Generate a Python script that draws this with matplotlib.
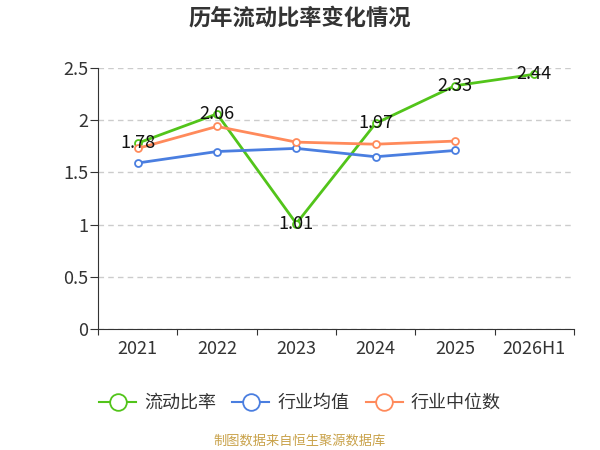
import matplotlib
matplotlib.use('Agg')
import matplotlib.pyplot as plt
from matplotlib.lines import Line2D

plt.rcParams['font.family'] = ['Noto Sans CJK SC', 'DejaVu Sans']

years = ['2021', '2022', '2023', '2024', '2025', '2026H1']
current_ratio = [1.78, 2.06, 1.01, 1.97, 2.33, 2.44]
industry_mean = [1.59, 1.70, 1.73, 1.65, 1.71]
industry_median = [1.73, 1.94, 1.79, 1.77, 1.80]

green = '#52c41a'
blue = '#4a7ee0'
orange = '#ff8a5b'

fig = plt.figure(figsize=(6, 4.5), dpi=100)
ax = fig.add_axes([98 / 600, 1 - 329 / 450, 476 / 600, 261 / 450])

x_all = list(range(len(years)))
series = [
    (current_ratio, green, '流动比率'),
    (industry_mean, blue, '行业均值'),
    (industry_median, orange, '行业中位数'),
]
for vals, col, name in series:
    ax.plot(x_all[:len(vals)], vals, color=col, lw=2, marker='o', ms=5,
            mfc='white', mec=col, mew=1.3, zorder=3)

for x, v in zip(x_all, current_ratio):
    ax.text(x, v, f'{v:.2f}', ha='center', va='center', fontsize=13,
            color='#111111', zorder=5)

ax.set_xlim(-0.5, len(years) - 0.5)
ax.set_ylim(0, 2.5)
ax.set_yticks([0, 0.5, 1, 1.5, 2, 2.5])
ax.set_yticklabels(['0', '0.5', '1', '1.5', '2', '2.5'])
ax.yaxis.grid(True, ls=(0, (4, 3)), color='#cccccc', lw=1)
ax.set_axisbelow(True)

ax.set_xticks([i - 0.5 for i in range(len(years) + 1)])
ax.set_xticklabels([])
ax.set_xticks(x_all, minor=True)
ax.set_xticklabels(years, minor=True)
ax.tick_params(axis='x', which='major', length=4, color='#333333')
ax.tick_params(axis='x', which='minor', length=0, pad=8, labelsize=13, labelcolor='#333333')
ax.tick_params(axis='y', length=6, color='#333333', labelsize=13, labelcolor='#333333', pad=1)

for s in ['top', 'right']:
    ax.spines[s].set_visible(False)
ax.spines['left'].set_color('#333333')
ax.spines['bottom'].set_color('#333333')

fig.text(0.5, 1 - 18 / 450, '历年流动比率变化情况', ha='center', va='center',
         fontsize=16, fontweight='bold', color='#333333')

handles = [Line2D([0], [0], color=c, lw=1.5, marker='o', ms=12, mfc='white', mec=c, mew=1.3)
           for _, c, _ in series]
fig.legend(handles, [n for _, _, n in series], loc='center', bbox_to_anchor=(0.5, 1 - 403 / 450),
           ncol=3, frameon=False, fontsize=13, handlelength=2.05, columnspacing=0.9,
           handletextpad=0.45, labelcolor='#333333')

fig.text(0.5, 1 - 441 / 450, '制图数据来自恒生聚源数据库', ha='center', va='center',
         fontsize=9.5, color='#c9a24a')

fig.savefig('out.png', dpi=100)
